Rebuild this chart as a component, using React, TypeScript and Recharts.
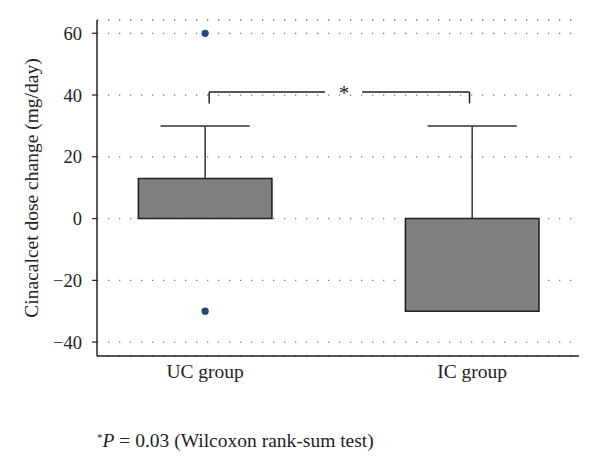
import React from "react";
import {
  ComposedChart,
  XAxis,
  YAxis,
  CartesianGrid,
  Scatter,
  ReferenceArea,
  ReferenceLine,
  ReferenceDot,
} from "recharts";

const groups = ["UC group", "IC group"];
const boxLow = [0, -30];
const boxHigh = [13, 0];
const whiskerHigh = [30, 30];
const outliers = [
  { x: 1, y: 60 },
  { x: 1, y: -30 },
];
const yTicks = [-40, -20, 0, 20, 40, 60];

const FONT = "'Liberation Serif', 'DejaVu Serif', serif";
const INK = "#222";

const BOX_HALF = 0.25;
const CAP_HALF = 0.167;

// significance bracket
const bracketTop = 41;
const bracketFoot = 37.3;
const bracketLeft = 1.015;
const bracketRight = 1.99;
const gapLeft = 1.449;
const gapRight = 1.588;
const starX = 1.52;

const YLabel = (props: any) => {
  const vb = props.viewBox || {};
  const cy = vb.y + vb.height / 2;
  return (
    <text
      x={31}
      y={cy}
      transform={`rotate(-90, 31, ${cy})`}
      textAnchor="middle"
      dominantBaseline="central"
      fontFamily={FONT}
      fontSize={19.5}
      fill={INK}
    >
      Cinacalcet dose change (mg/day)
    </text>
  );
};

const Star = (props: any) => {
  const vb = props.viewBox || {};
  const cx = vb.x + (vb.width || 0) / 2;
  const cy = vb.y + (vb.height || 0) / 2;
  return (
    <text x={cx} y={cy + 8} textAnchor="middle" fontFamily={FONT} fontSize={21} fill={INK}>
      *
    </text>
  );
};

export default function App() {
  return (
    <div style={{ position: "absolute", left: 0, top: 0, width: 600, height: 470, background: "#fff" }}>
      <ComposedChart width={600} height={470} margin={{ top: 20, right: 21, bottom: 84, left: 0 }}>
        <CartesianGrid
          horizontal
          vertical={false}
          stroke="#777"
          strokeDasharray="1.3 9.7"
          strokeWidth={1.3}
        />
        <XAxis
          type="number"
          dataKey="x"
          height={30}
          domain={[0.595, 2.4]}
          ticks={[1, 2]}
          tickFormatter={(v: number) => groups[v - 1]}
          tickLine={false}
          tickSize={0}
          tickMargin={8}
          axisLine={{ stroke: INK, strokeWidth: 1.5 }}
          tick={{ fontFamily: FONT, fontSize: 19.5, fill: INK }}
          allowDataOverflow
        />
        <YAxis
          type="number"
          dataKey="y"
          width={97}
          domain={[-44.5, 64.3]}
          ticks={yTicks}
          tickFormatter={(v: number) => (v < 0 ? `\u2212${Math.abs(v)}` : `${v}`)}
          tickSize={5}
          tickMargin={10}
          tickLine={{ stroke: INK, strokeWidth: 1.2 }}
          axisLine={{ stroke: INK, strokeWidth: 1.5 }}
          tick={{ fontFamily: FONT, fontSize: 18.5, fill: INK }}
          allowDataOverflow
          label={<YLabel />}
        />
        {groups.map((g, i) => (
          <ReferenceLine
            key={`w-${g}`}
            segment={[
              { x: i + 1, y: boxHigh[i] },
              { x: i + 1, y: whiskerHigh[i] },
            ]}
            stroke="#333"
            strokeWidth={1.5}
            ifOverflow="visible"
          />
        ))}
        {groups.map((g, i) => (
          <ReferenceLine
            key={`c-${g}`}
            segment={[
              { x: i + 1 - CAP_HALF, y: whiskerHigh[i] },
              { x: i + 1 + CAP_HALF, y: whiskerHigh[i] },
            ]}
            stroke="#333"
            strokeWidth={1.5}
            ifOverflow="visible"
          />
        ))}
        {groups.map((g, i) => (
          <ReferenceArea
            key={`b-${g}`}
            x1={i + 1 - BOX_HALF}
            x2={i + 1 + BOX_HALF}
            y1={boxLow[i]}
            y2={boxHigh[i]}
            fill="#808080"
            fillOpacity={1}
            stroke={INK}
            strokeWidth={1.6}
            ifOverflow="visible"
          />
        ))}
        <ReferenceLine
          segment={[
            { x: bracketLeft, y: bracketFoot },
            { x: bracketLeft, y: bracketTop },
          ]}
          stroke={INK}
          strokeWidth={1.5}
          ifOverflow="visible"
        />
        <ReferenceLine
          segment={[
            { x: bracketLeft, y: bracketTop },
            { x: gapLeft, y: bracketTop },
          ]}
          stroke={INK}
          strokeWidth={1.5}
          ifOverflow="visible"
        />
        <ReferenceLine
          segment={[
            { x: gapRight, y: bracketTop },
            { x: bracketRight, y: bracketTop },
          ]}
          stroke={INK}
          strokeWidth={1.5}
          ifOverflow="visible"
        />
        <ReferenceLine
          segment={[
            { x: bracketRight, y: bracketTop },
            { x: bracketRight, y: bracketFoot },
          ]}
          stroke={INK}
          strokeWidth={1.5}
          ifOverflow="visible"
        />
        <ReferenceDot
          x={starX}
          y={bracketTop}
          r={0}
          fill="none"
          stroke="none"
          ifOverflow="visible"
          label={<Star />}
        />
        <Scatter
          data={outliers}
          fill="#1c4a7a"
          isAnimationActive={false}
          shape={(p: any) => <circle cx={p.cx} cy={p.cy} r={3.6} fill="#1c4a7a" />}
        />
      </ComposedChart>
      <div
        style={{
          position: "absolute",
          left: 97,
          top: 424,
          fontFamily: FONT,
          fontSize: 19.5,
          lineHeight: "26px",
          color: INK,
          whiteSpace: "nowrap",
        }}
      >
        <span style={{ fontSize: 11, verticalAlign: "6px" }}>*</span>
        <i>P</i> = 0.03 (Wilcoxon rank-sum test)
      </div>
    </div>
  );
}
